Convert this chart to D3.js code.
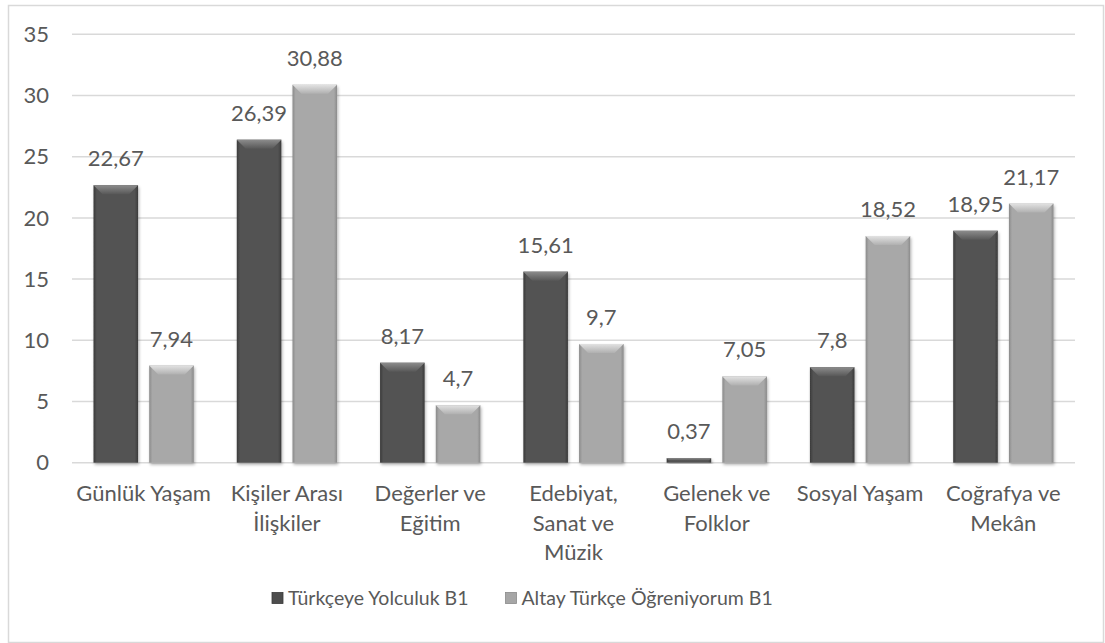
<!DOCTYPE html>
<html>
<head>
<meta charset="utf-8">
<script src="https://cdn.jsdelivr.net/npm/d3@7"></script>
<style>
  body { margin: 0; background: #fff; }
  text { font-family: Lato, "Open Sans", sans-serif; fill: #595959; }
</style>
</head>
<body>
<script>
// Chart data
const categories = ["Günlük Yaşam", "Kişiler Arası İlişkiler", "Değerler ve Eğitim", "Edebiyat, Sanat ve Müzik", "Gelenek ve Folklor", "Sosyal Yaşam", "Coğrafya ve Mekân"];
const categoryLines = [["Günlük Yaşam"], ["Kişiler Arası", "İlişkiler"], ["Değerler ve", "Eğitim"], ["Edebiyat,", "Sanat ve", "Müzik"], ["Gelenek ve", "Folklor"], ["Sosyal Yaşam"], ["Coğrafya ve", "Mekân"]];
const seriesNames = ["Türkçeye Yolculuk B1", "Altay Türkçe Öğreniyorum B1"];
const yolculukValues = [22.67, 26.39, 8.17, 15.61, 0.37, 7.8, 18.95];
const altayValues = [7.94, 30.88, 4.7, 9.7, 7.05, 18.52, 21.17];
const yTicks = [0, 5, 10, 15, 20, 25, 30, 35];

const W = 1105, H = 643;
const svg = d3.select("body").append("svg")
	.attr("width", W)
	.attr("height", H);

const defs = svg.append("defs");

// bar styles: edge / body / bevel colours
const styles = [
	{ edge: "#3a3a3a", body: "#525252", bevTop: "#8c8c8c", bevBot: "#585858", legend: "#4d4d4d" },
	{ edge: "#8a8a8a", body: "#a8a8a8", bevTop: "#e2e2e2", bevBot: "#b0b0b0", legend: "#a6a6a6" }
];

styles.forEach((s, i) => {
	const g = defs.append("linearGradient").attr("id", "body" + i)
		.attr("x1", 0).attr("x2", 1).attr("y1", 0).attr("y2", 0);
	g.append("stop").attr("offset", "0%").attr("stop-color", s.edge);
	g.append("stop").attr("offset", "7%").attr("stop-color", s.body);
	g.append("stop").attr("offset", "93%").attr("stop-color", s.body);
	g.append("stop").attr("offset", "100%").attr("stop-color", s.edge);

	const b = defs.append("linearGradient").attr("id", "bevel" + i)
		.attr("x1", 0).attr("x2", 0).attr("y1", 0).attr("y2", 1);
	b.append("stop").attr("offset", "0%").attr("stop-color", s.bevTop);
	b.append("stop").attr("offset", "100%").attr("stop-color", s.bevBot);
});

const shadow = defs.append("filter").attr("id", "shadow")
	.attr("x", "-20%").attr("y", "-20%").attr("width", "140%").attr("height", "140%");
shadow.append("feDropShadow")
	.attr("dx", 1).attr("dy", 2).attr("stdDeviation", 1.6)
	.attr("flood-color", "#000").attr("flood-opacity", 0.3);

// outer border
svg.append("rect")
	.attr("x", 8.5).attr("y", 5.5)
	.attr("width", 1095).attr("height", 637)
	.attr("fill", "none")
	.attr("stroke", "#d9d9d9")
	.attr("stroke-width", 1.5);

const plotLeft = 72, plotRight = 1075, plotTop = 34.3, plotBottom = 462.7;

const x0 = d3.scaleBand()
	.domain(categories)
	.range([plotLeft, plotRight])
	.paddingInner(0.3)
	.paddingOuter(0.15);

const x1 = d3.scaleBand()
	.domain(seriesNames)
	.range([0, x0.bandwidth()])
	.paddingInner(0.2);

const y = d3.scaleLinear()
	.domain([0, 35])
	.range([plotBottom, plotTop]);

// gridlines
svg.append("g").selectAll("line")
	.data(yTicks)
	.enter().append("line")
	.attr("x1", plotLeft).attr("x2", plotRight)
	.attr("y1", d => y(d)).attr("y2", d => y(d))
	.attr("stroke", "#d9d9d9")
	.attr("stroke-width", 1.5);

// y tick labels
svg.append("g").selectAll("text")
	.data(yTicks)
	.enter().append("text")
	.attr("x", 49)
	.attr("y", d => y(d))
	.attr("dy", "0.35em")
	.attr("text-anchor", "end")
	.style("font-size", "22px")
	.text(d => d);

// bars
const rows = categories.map((c, i) => ({
	cat: c,
	vals: [yolculukValues[i], altayValues[i]]
}));

const groups = svg.append("g").selectAll("g")
	.data(rows)
	.enter().append("g")
	.attr("transform", d => `translate(${x0(d.cat)},0)`);

const bars = groups.selectAll("g.bar")
	.data(d => d.vals.map((v, k) => ({ v: v, k: k, name: seriesNames[k] })))
	.enter().append("g")
	.attr("class", "bar");

bars.each(function(d) {
	const g = d3.select(this);
	const bx = x1(d.name), bw = x1.bandwidth();
	const by = y(d.v), bh = plotBottom - by;
	const bev = Math.min(9, bh / 2);

	g.append("rect")
		.attr("x", bx).attr("y", by)
		.attr("width", bw).attr("height", bh)
		.attr("fill", `url(#body${d.k})`)
		.attr("filter", "url(#shadow)");

	g.append("polygon")
		.attr("points", [[bx, by], [bx + bw, by], [bx + bw - bev, by + bev], [bx + bev, by + bev]].map(p => p.join(",")).join(" "))
		.attr("fill", `url(#bevel${d.k})`);

	// value label
	g.append("text")
		.attr("x", bx + bw / 2)
		.attr("y", by - 19)
		.attr("text-anchor", "middle")
		.style("font-size", "22px")
		.text(String(d.v).replace(".", ","));
});

// category labels
const catLabels = svg.append("g").selectAll("text")
	.data(categories)
	.enter().append("text")
	.attr("text-anchor", "middle")
	.attr("x", d => x0(d) + x0.bandwidth() / 2)
	.attr("y", 501)
	.style("font-size", "22px");

catLabels.selectAll("tspan")
	.data((d, i) => categoryLines[i])
	.enter().append("tspan")
	.attr("x", function() { return d3.select(this.parentNode).attr("x"); })
	.attr("dy", (d, i) => i === 0 ? 0 : 29.5)
	.text(d => d);

// legend
const legend = svg.append("g");
let lx = 272;
seriesNames.forEach((name, i) => {
	legend.append("rect")
		.attr("x", lx).attr("y", 592.5)
		.attr("width", 11).attr("height", 11)
		.attr("fill", styles[i].legend)
		.attr("stroke", styles[i].edge)
		.attr("stroke-width", 0.8);
	const t = legend.append("text")
		.attr("x", lx + 16)
		.attr("y", 598)
		.attr("dy", "0.35em")
		.style("font-size", "19.5px")
		.text(name);
	lx = lx + 16 + t.node().getComputedTextLength() + 37;
});
</script>
</body>
</html>
